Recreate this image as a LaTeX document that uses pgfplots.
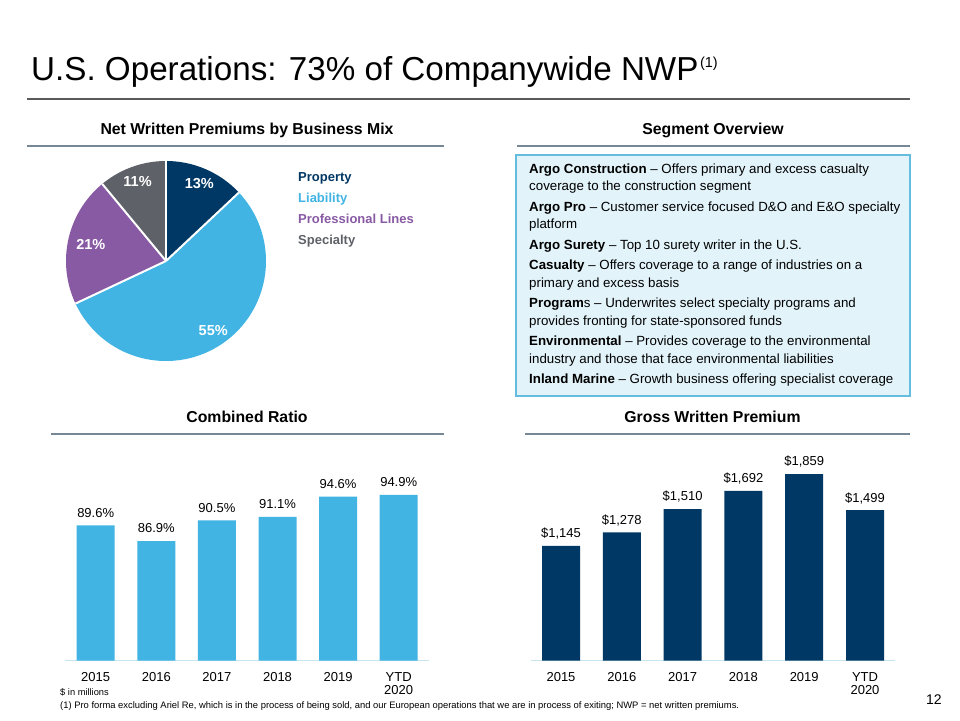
\documentclass[border=0pt]{standalone}
\usepackage{fontspec}
\setmainfont{Liberation Sans}
\usepackage{pgfplots}
\pgfplotsset{compat=1.18}
\usepackage{pgfplotstable}

\definecolor{navy}{RGB}{0,56,101}
\definecolor{lblue}{RGB}{65,180,228}
\definecolor{purp}{RGB}{137,90,164}
\definecolor{sgray}{RGB}{94,98,104}
\definecolor{boxfill}{RGB}{226,243,250}
\definecolor{boxline}{RGB}{100,188,222}
\definecolor{secline}{RGB}{118,135,150}
\definecolor{titleline}{RGB}{90,90,90}
\definecolor{baseblue}{RGB}{200,228,240}

\pgfplotstableread{
x v
0 89.6
1 86.9
2 90.5
3 91.1
4 94.6
5 94.9
}\crdata

\pgfplotstableread{
x v
0 1145
1 1278
2 1510
3 1692
4 1859
5 1499
}\gwpdata

% pie shares (percent): Property, Liability, Professional Lines, Specialty
\def\pA{13}\def\pB{55}\def\pC{21}\def\pD{11}

\newcommand{\bodyfont}{\fontsize{13.3}{16}\selectfont}
\newcommand{\headfont}{\bfseries\fontsize{15.8}{18}\selectfont}

\begin{document}
\begin{tikzpicture}
\path[use as bounding box] (0,0) rectangle (960pt,-720pt);
\fill[white] (0,0) rectangle (960pt,-720pt);

% title
\node[anchor=base west, inner sep=0pt, font=\fontsize{33.2}{40}\selectfont] at (31pt,-80pt)
  {U.S. Operations: 73\% of Companywide NWP\kern1.5pt\raisebox{13pt}{\fontsize{14.5}{16}\selectfont(1)}};
\draw[titleline, line width=2pt] (27pt,-99pt) -- (910pt,-99pt);

% section headings
\node[anchor=base, inner sep=0pt, font=\headfont] at (247pt,-134.5pt) {Net Written Premiums by Business Mix};
\node[anchor=base, inner sep=0pt, font=\headfont] at (713pt,-134.5pt) {Segment Overview};
\draw[secline, line width=1.5pt] (27pt,-146pt) -- (444pt,-146pt);
\draw[secline, line width=1.5pt] (517pt,-146pt) -- (910pt,-146pt);

\node[anchor=base, inner sep=0pt, font=\headfont] at (247pt,-422pt) {Combined Ratio};
\node[anchor=base, inner sep=0pt, font=\headfont] at (712.5pt,-422pt) {Gross Written Premium};
\draw[secline, line width=1.5pt] (51pt,-434pt) -- (444pt,-434pt);
\draw[secline, line width=1.5pt] (525pt,-434pt) -- (910pt,-434pt);

% segment overview box
\draw[boxline, fill=boxfill, line width=1.3pt] (516pt,-155pt) rectangle (910pt,-396pt);
\begin{scope}[every node/.style={anchor=base west, inner sep=0pt, font=\bodyfont}]
\node at (529pt,-173pt) {\textbf{Argo Construction} -- Offers primary and excess casualty};
\node at (529pt,-190.5pt) {coverage to the construction segment};
\node at (529pt,-211pt) {\textbf{Argo Pro} -- Customer service focused D\&O and E\&O specialty};
\node at (529pt,-228.5pt) {platform};
\node at (529pt,-249pt) {\textbf{Argo Surety} -- Top 10 surety writer in the U.S.};
\node at (529pt,-269.5pt) {\textbf{Casualty} -- Offers coverage to a range of industries on a};
\node at (529pt,-287pt) {primary and excess basis};
\node at (529pt,-307.5pt) {\textbf{Program}s -- Underwrites select specialty programs and};
\node at (529pt,-325pt) {provides fronting for state-sponsored funds};
\node at (529pt,-345.5pt) {\textbf{Environmental} -- Provides coverage to the environmental};
\node at (529pt,-363pt) {industry and those that face environmental liabilities};
\node at (529pt,-383.5pt) {\textbf{Inland Marine} -- Growth business offering specialist coverage};
\end{scope}

% pie
\pgfmathsetmacro{\aA}{90}
\pgfmathsetmacro{\aB}{\aA-3.6*\pA}
\pgfmathsetmacro{\aC}{\aB-3.6*\pB}
\pgfmathsetmacro{\aD}{\aC-3.6*\pC}
\pgfmathsetmacro{\aE}{\aD-3.6*\pD}
\begin{axis}[hide axis, x=100pt, y=100pt, xmin=-1.05, xmax=1.05, ymin=-1.05, ymax=1.05,
  anchor=origin, at={(166pt,-261pt)}, clip=false]
\addplot[fill=navy, draw=none, domain=\aA:\aB, samples=60] ({cos(x)},{sin(x)}) -- (axis cs:0,0) -- cycle;
\addplot[fill=lblue, draw=none, domain=\aB:\aC, samples=150] ({cos(x)},{sin(x)}) -- (axis cs:0,0) -- cycle;
\addplot[fill=purp, draw=none, domain=\aC:\aD, samples=80] ({cos(x)},{sin(x)}) -- (axis cs:0,0) -- cycle;
\addplot[fill=sgray, draw=none, domain=\aD:\aE, samples=50] ({cos(x)},{sin(x)}) -- (axis cs:0,0) -- cycle;
\draw[white, line width=2pt] (axis cs:0,0) -- (axis cs:{cos(\aA)},{sin(\aA)});
\draw[white, line width=2pt] (axis cs:0,0) -- (axis cs:{cos(\aB)},{sin(\aB)});
\draw[white, line width=2pt] (axis cs:0,0) -- (axis cs:{cos(\aC)},{sin(\aC)});
\draw[white, line width=2pt] (axis cs:0,0) -- (axis cs:{cos(\aD)},{sin(\aD)});
\begin{scope}[every node/.style={text=white, font=\bfseries\fontsize{14.5}{16}\selectfont, inner sep=0pt}]
\node at (axis cs:{0.84*cos((\aA+\aB)/2)},{0.84*sin((\aA+\aB)/2)}) {13\%};
\node at (axis cs:{0.84*cos((\aB+\aC)/2)},{0.84*sin((\aB+\aC)/2)}) {55\%};
\node at (axis cs:{0.77*cos((\aC+\aD)/2)},{0.77*sin((\aC+\aD)/2)}) {21\%};
\node at (axis cs:{0.84*cos((\aD+\aE)/2)},{0.84*sin((\aD+\aE)/2)}) {11\%};
\end{scope}
\end{axis}

% pie legend
\begin{scope}[every node/.style={anchor=base west, inner sep=0pt, font=\bfseries\fontsize{13}{15}\selectfont}]
\node[text=navy] at (298pt,-181pt) {Property};
\node[text=lblue] at (298pt,-202pt) {Liability};
\node[text=purp] at (298pt,-223.5pt) {Professional Lines};
\node[text=sgray] at (298pt,-244.5pt) {Specialty};
\end{scope}

% combined ratio
\begin{axis}[
  at={(65.4pt,-660.7pt)}, anchor=south west,
  x=60.6pt, y=5.78pt, xmin=-0.5, xmax=5.5, ymin=66.2, ymax=100,
  axis x line*=bottom, axis y line=none,
  axis line style={draw=baseblue, line width=1.2pt},
  xtick=data, xticklabels={2015,2016,2017,2018,2019,{YTD\\2020}},
  xtick style={draw=none}, major tick length=0pt,
  xticklabel style={align=center, font=\fontsize{13}{13.3}\selectfont, yshift=-8pt},
  ytick=\empty,
  ybar, bar width=38pt,
  /pgf/number format/assume math mode=true,
  nodes near coords={\pgfmathprintnumber[fixed,fixed zerofill,precision=1]{\pgfplotspointmeta}\%},
  every node near coord/.append style={anchor=south, inner sep=0pt, text depth=0pt, yshift=8pt, font=\fontsize{13}{15}\selectfont, text=black},
]
\addplot[fill=lblue, draw=none] table[x=x,y=v] {\crdata};
\end{axis}

% gross written premium
\begin{axis}[
  at={(530.6pt,-660.7pt)}, anchor=south west,
  x=60.8pt, y=0.1004pt, xmin=-0.5, xmax=5.5, ymin=0, ymax=2000,
  axis x line*=bottom, axis y line=none,
  axis line style={draw=baseblue, line width=1.2pt},
  xtick=data, xticklabels={2015,2016,2017,2018,2019,{YTD\\2020}},
  xtick style={draw=none}, major tick length=0pt,
  xticklabel style={align=center, font=\fontsize{13}{13.3}\selectfont, yshift=-8pt},
  ytick=\empty,
  ybar, bar width=38pt,
  /pgf/number format/assume math mode=true,
  nodes near coords={\$\pgfmathprintnumber[fixed,precision=0,1000 sep={,}]{\pgfplotspointmeta}},
  every node near coord/.append style={anchor=south, inner sep=0pt, text depth=0pt, yshift=8pt, font=\fontsize{13}{15}\selectfont, text=black},
]
\addplot[fill=navy, draw=none] table[x=x,y=v] {\gwpdata};
\end{axis}

% footnotes
\node[anchor=base west, inner sep=0pt, font=\fontsize{9.3}{11}\selectfont] at (60pt,-695.5pt) {\$ in millions};
\node[anchor=base west, inner sep=0pt, font=\fontsize{9.4}{11}\selectfont] at (60pt,-708.5pt)
  {(1) Pro forma excluding Ariel Re, which is in the process of being sold, and our European operations that we are in process of exiting; NWP = net written premiums.};
\node[anchor=base west, inner sep=0pt, font=\fontsize{14}{16}\selectfont] at (926pt,-704pt) {12};
\end{tikzpicture}
\end{document}
